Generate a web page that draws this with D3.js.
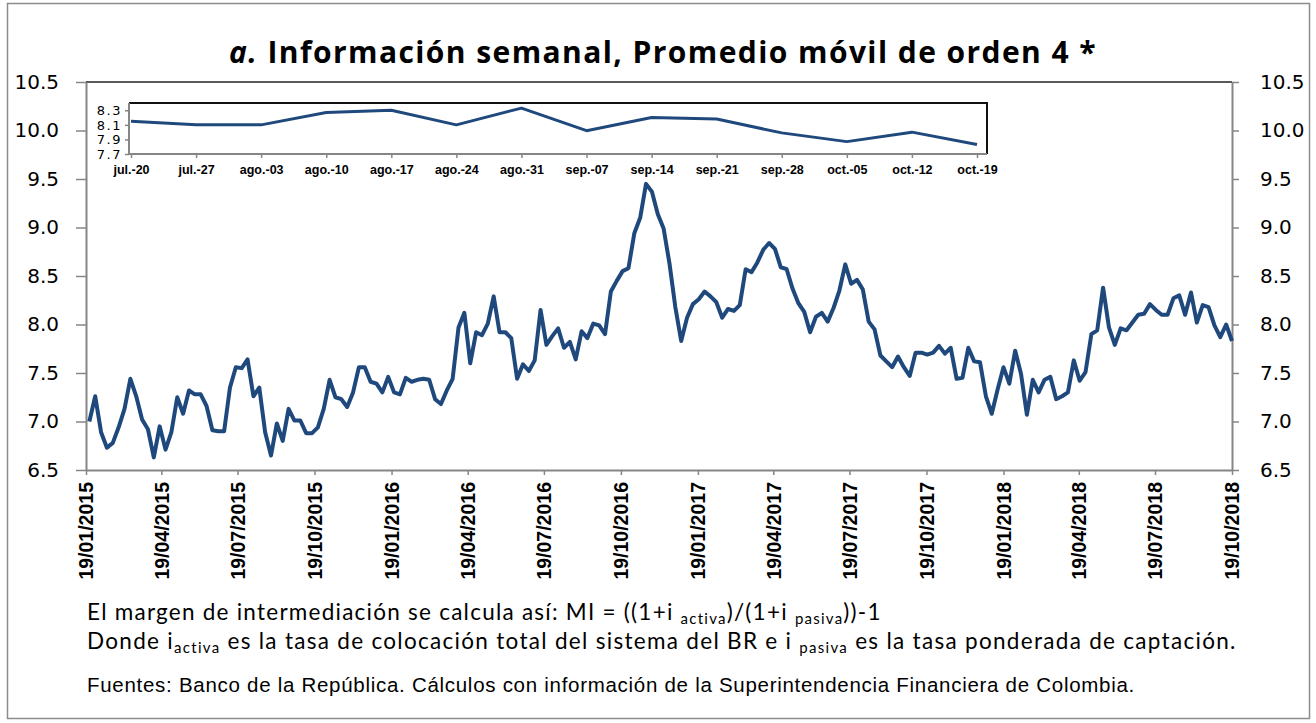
<!DOCTYPE html>
<html>
<head>
<meta charset="utf-8">
<script src="https://cdn.jsdelivr.net/npm/d3@7"></script>
<style>
  body { margin: 0; background: #fff; }
  svg { display: block; }
</style>
</head>
<body>
<div class="view"></div>
<script>
// Margen de intermediación, promedio móvil de orden 4 (semanal, viernes)
var fechaInicio = new Date(2015, 0, 23);

var margen2015 = [7.00, 7.26, 6.89, 6.73, 6.78, 6.94, 7.13, 7.44, 7.26, 7.02,
  6.92, 6.63, 6.95, 6.71, 6.89, 7.25, 7.08, 7.32, 7.28, 7.28,
  7.16, 6.91, 6.90, 6.90, 7.35, 7.56, 7.55, 7.64, 7.26, 7.35,
  6.89, 6.65, 6.98, 6.80, 7.13, 7.01, 7.01, 6.88, 6.88, 6.94,
  7.13, 7.43, 7.25, 7.23, 7.15, 7.30, 7.56, 7.56, 7.41];

var margen2016 = [7.39, 7.30, 7.46, 7.30, 7.28, 7.45, 7.41, 7.43, 7.44, 7.43,
  7.23, 7.18, 7.32, 7.44, 7.97, 8.12, 7.60, 7.92, 7.89, 8.01,
  8.29, 7.92, 7.92, 7.86, 7.44, 7.59, 7.52, 7.63, 8.15, 7.79,
  7.88, 7.96, 7.76, 7.82, 7.64, 7.93, 7.86, 8.01, 7.99, 7.90,
  8.34, 8.45, 8.55, 8.58, 8.94, 9.10, 9.45, 9.37, 9.14, 8.99,
  8.63, 8.18, 7.83];

var margen2017 = [8.07, 8.21, 8.26, 8.34, 8.29, 8.23, 8.07, 8.16, 8.14, 8.20,
  8.57, 8.54, 8.64, 8.77, 8.84, 8.78, 8.59, 8.57, 8.37, 8.22,
  8.13, 7.92, 8.08, 8.12, 8.03, 8.17, 8.35, 8.62, 8.42, 8.46,
  8.36, 8.03, 7.95, 7.68, 7.62, 7.56, 7.67, 7.56, 7.47, 7.71,
  7.71, 7.69, 7.71, 7.78, 7.70, 7.76, 7.44, 7.45, 7.76, 7.62,
  7.61, 7.26];

var margen2018 = [7.08, 7.33, 7.56, 7.39, 7.73, 7.49, 7.07, 7.43, 7.30, 7.43,
  7.46, 7.23, 7.26, 7.30, 7.63, 7.42, 7.51, 7.90, 7.94, 8.38,
  7.97, 7.79, 7.96, 7.94, 8.02, 8.10, 8.11, 8.21,
  8.15, 8.10, 8.10, 8.27, 8.30, 8.10, 8.33, 8.02, 8.20, 8.18,
  7.99, 7.87, 8.00, 7.83];

var ticksY = [6.5, 7.0, 7.5, 8.0, 8.5, 9.0, 9.5, 10.0, 10.5];
var ticksFecha = ["2015-01-19", "2015-04-19", "2015-07-19", "2015-10-19",
  "2016-01-19", "2016-04-19", "2016-07-19", "2016-10-19",
  "2017-01-19", "2017-04-19", "2017-07-19", "2017-10-19",
  "2018-01-19", "2018-04-19", "2018-07-19", "2018-10-19"];

// recuadro: ultimas 14 semanas
var semanasRecuadro = ["jul.-20", "jul.-27", "ago.-03", "ago.-10", "ago.-17", "ago.-24", "ago.-31",
  "sep.-07", "sep.-14", "sep.-21", "sep.-28", "oct.-05", "oct.-12", "oct.-19"];
var ticksRecuadro = [7.7, 7.9, 8.1, 8.3];

var azul = "#1f497d";
var gris = "#868686";

var parseFecha = d3.timeParse("%Y-%m-%d");
var valores = margen2015.concat(margen2016, margen2017, margen2018);
var data = valores.map(function(v, i) {
  return { fecha: d3.timeWeek.offset(fechaInicio, i), valor: v };
});
var recuadro = margen2018.slice(-14).map(function(v, i) {
  return { semana: semanasRecuadro[i], valor: v };
});

var svg = d3.select('.view')
  .append('svg')
  .attr('width', 1316)
  .attr('height', 723);

svg.append("rect")
  .attr("x", 7.5).attr("y", 3.5)
  .attr("width", 1302).attr("height", 715)
  .attr("fill", "#fff")
  .attr("stroke", "#8c8c8c")
  .attr("stroke-width", 1.5);

function ajustar(texto, ancho) {
  var n = texto.text().length;
  var largo = texto.node().getComputedTextLength();
  texto.attr("letter-spacing", (ancho - largo) / n);
}

// titulo
var titulo = svg.append("text")
  .attr("x", 663)
  .attr("y", 63)
  .attr("text-anchor", "middle")
  .style("font-family", "'Open Sans', sans-serif")
  .style("font-weight", "bold")
  .style("font-size", "30px")
  .attr("fill", "#000");
titulo.append("tspan").style("font-style", "italic").text("a. ");
titulo.append("tspan").text("Información semanal, Promedio móvil de orden 4 *");
ajustar(titulo, 868);

// grafico principal
var x = d3.scaleTime()
  .domain([parseFecha("2015-01-19"), parseFecha("2018-10-19")])
  .range([86, 1232]);

var y = d3.scaleLinear()
  .domain([6.5, 10.5])
  .range([470, 82]);

svg.append("line")
  .attr("x1", 86).attr("x2", 1232)
  .attr("y1", 82).attr("y2", 82)
  .attr("stroke", "#222")
  .attr("stroke-width", 1.5);

var ejeIzq = svg.append("g")
  .attr("transform", "translate(86,0)")
  .call(d3.axisLeft(y).tickValues(ticksY).tickFormat(d3.format(".1f"))
    .tickSize(10).tickPadding(17).tickSizeOuter(0));

var ejeDer = svg.append("g")
  .attr("transform", "translate(1232,0)")
  .call(d3.axisRight(y).tickValues(ticksY).tickFormat(d3.format(".1f"))
    .tickSize(7).tickPadding(21).tickSizeOuter(0));

[ejeIzq, ejeDer].forEach(function(g) {
  g.select(".domain").attr("stroke", gris).attr("stroke-width", 2);
  g.selectAll(".tick line").attr("stroke", gris).attr("stroke-width", 1.5);
  g.selectAll(".tick text")
    .attr("fill", "#000")
    .style("font-family", "'DejaVu Sans', sans-serif")
    .style("font-size", "20px");
});

var ejeX = svg.append("g")
  .attr("transform", "translate(0,470)")
  .call(d3.axisBottom(x)
    .tickValues(ticksFecha.map(parseFecha))
    .tickFormat(d3.timeFormat("%d/%m/%Y"))
    .tickSize(5).tickSizeOuter(0));

ejeX.select(".domain").attr("stroke", gris).attr("stroke-width", 2);
ejeX.selectAll(".tick line").attr("stroke", gris).attr("stroke-width", 1.5);
ejeX.selectAll(".tick text")
  .attr("fill", "#000")
  .attr("transform", "rotate(-90)")
  .attr("text-anchor", "end")
  .attr("x", -12)
  .attr("y", 0)
  .attr("dy", "0.35em")
  .style("font-family", "'Liberation Sans', Arial, sans-serif")
  .style("font-weight", "bold")
  .style("font-size", "19.5px");

var linea = d3.line()
  .x(function(d) { return x(d.fecha); })
  .y(function(d) { return y(d.valor); });

svg.append("path")
  .datum(data)
  .attr("fill", "none")
  .attr("stroke", azul)
  .attr("stroke-width", 4)
  .attr("stroke-linejoin", "round")
  .attr("d", linea);

// recuadro de las ultimas semanas
var xr = d3.scalePoint()
  .domain(semanasRecuadro)
  .range([131, 977]);

var yr = d3.scaleLinear()
  .domain([7.7, 8.4])
  .range([154, 103]);

svg.append("rect")
  .attr("x", 129).attr("y", 103)
  .attr("width", 858).attr("height", 51)
  .attr("fill", "#fff");

svg.append("path")
  .attr("d", "M129,103H987V154")
  .attr("fill", "none")
  .attr("stroke", "#111")
  .attr("stroke-width", 2);

svg.append("path")
  .attr("d", "M129,103V154H987")
  .attr("fill", "none")
  .attr("stroke", gris)
  .attr("stroke-width", 2);

var ejeRy = svg.append("g")
  .attr("transform", "translate(129,0)")
  .call(d3.axisLeft(yr).tickValues(ticksRecuadro).tickFormat(d3.format(".1f"))
    .tickSize(4).tickPadding(3).tickSizeOuter(0));

var ejeRx = svg.append("g")
  .attr("transform", "translate(0,154)")
  .call(d3.axisBottom(xr).tickSize(4).tickPadding(7).tickSizeOuter(0));

[ejeRy, ejeRx].forEach(function(g) {
  g.select(".domain").remove();
  g.selectAll(".tick line").attr("stroke", gris).attr("stroke-width", 1.5);
  g.selectAll(".tick text").attr("fill", "#000");
});

ejeRy.selectAll(".tick text")
  .style("font-family", "'DejaVu Sans', sans-serif")
  .style("font-size", "13px")
  .attr("letter-spacing", 1.5);

ejeRx.selectAll(".tick text")
  .style("font-family", "'Liberation Sans', Arial, sans-serif")
  .style("font-weight", "bold")
  .style("font-size", "12.5px");

var lineaR = d3.line()
  .x(function(d) { return xr(d.semana); })
  .y(function(d) { return yr(d.valor); });

svg.append("path")
  .datum(recuadro)
  .attr("fill", "none")
  .attr("stroke", azul)
  .attr("stroke-width", 3)
  .attr("stroke-linejoin", "round")
  .attr("d", lineaR);

// notas
function nota(yPos, partes, ancho) {
  var t = svg.append("text")
    .attr("x", 87)
    .attr("y", yPos)
    .attr("fill", "#000")
    .style("font-family", "Lato, 'Open Sans', sans-serif")
    .style("font-size", "22.5px");
  partes.forEach(function(p) {
    var s = t.append("tspan").text(p[0]);
    if (p[1] == "sub") s.attr("dy", 4).style("font-size", "15px");
    if (p[1] == "up") s.attr("dy", -4);
  });
  ajustar(t, ancho);
}

nota(620, [["El margen de intermediación se calcula así: MI = ((1+i "], ["activa", "sub"],
  [")/(1+i ", "up"], ["pasiva", "sub"], ["))-1", "up"]], 795);
nota(649, [["Donde i"], ["activa", "sub"], [" es la tasa de colocación total del sistema del BR e i ", "up"],
  ["pasiva", "sub"], [" es la tasa ponderada de captación.", "up"]], 1150);

var fuente = svg.append("text")
  .attr("x", 87)
  .attr("y", 692)
  .attr("fill", "#000")
  .style("font-family", "'Liberation Sans', Arial, sans-serif")
  .style("font-size", "20.5px")
  .text("Fuentes: Banco de la República. Cálculos con información de la Superintendencia Financiera de Colombia.");
ajustar(fuente, 1048);
</script>
</body>
</html>
